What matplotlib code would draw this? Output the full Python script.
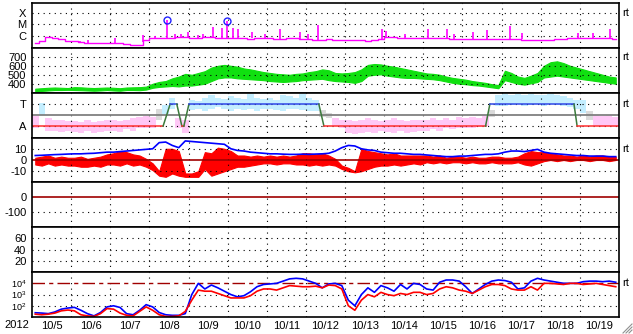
import numpy as np
import matplotlib
matplotlib.use('Agg')
import matplotlib.pyplot as plt
import matplotlib.transforms as mtransforms
from matplotlib.lines import Line2D

plt.rcParams['font.family'] = ['Liberation Sans', 'DejaVu Sans']
plt.rcParams['font.size'] = 8
plt.rcParams['mathtext.fontset'] = 'custom'
plt.rcParams['mathtext.rm'] = 'Liberation Sans'

# time axis: days since 2012-10-05 00:00, 4-hour bins
t = (np.arange(90) + 0.5) / 6.0
day_labels = ['10/5', '10/6', '10/7', '10/8', '10/9', '10/10', '10/11', '10/12',
              '10/13', '10/14', '10/15', '10/16', '10/17', '10/18', '10/19']

# X-ray background, log10 flux
xray_log = [-6.70, -6.45, -6.15, -6.20, -6.30, -6.45,
            -6.52, -6.55, -6.62, -6.66, -6.66, -6.64,
            -6.66, -6.70, -6.72, -6.80, -6.82, -6.40,
            -6.24, -6.22, -6.24, -6.20, -6.15, -6.15,
            -6.20, -6.25, -6.15, -6.10, -6.18, -6.24,
            -6.22, -6.25, -6.24, -6.26, -6.22, -6.24,
            -6.24, -6.26, -6.28, -6.24, -6.25, -6.30,
            -6.32, -6.35, -6.36, -6.30, -6.38, -6.40,
            -6.40, -6.42, -6.43, -6.44, -6.43, -6.30,
            -6.10, -6.15, -6.18, -6.20, -6.20, -6.22,
            -6.20, -6.22, -6.24, -6.25, -6.28, -6.30,
            -6.30, -6.28, -6.30, -6.32, -6.30, -6.28,
            -6.30, -6.30, -6.32, -6.35, -6.38, -6.40,
            -6.38, -6.35, -6.30, -6.28, -6.25, -6.24,
            -6.24, -6.22, -6.20, -6.25, -6.22, -6.28]
flare_t = [1.23, 1.43, 2.12, 2.84, 3.14, 3.45, 3.65, 3.81, 3.99, 4.24, 4.37, 4.63,
           4.86, 4.98, 5.14, 5.26, 5.62, 5.95, 6.34, 6.85, 7.05, 7.31, 8.94, 9.05,
           9.53, 10.12, 10.61, 10.78, 11.27, 11.63, 12.22, 12.52, 13.95, 14.34, 14.77]
flare_log = [-6.45, -6.35, -6.20, -5.90, -6.00, -4.60, -5.85, -5.82, -5.70, -5.90, -5.85, -5.24,
             -5.36, -4.72, -5.30, -5.40, -5.70, -5.85, -5.39, -5.70, -5.85, -5.09, -5.40, -5.55,
             -5.85, -5.40, -5.40, -5.85, -5.70, -5.50, -5.18, -5.75, -5.75, -5.78, -5.40]
mflare_t = [3.45, 4.98]
mflare_log = [-4.60, -4.72]

# solar wind speed envelope (km/s)
speed_lo = [318, 320, 325, 330, 330, 332, 330, 328, 325, 322, 325, 330,
            325, 322, 330, 330, 328, 335, 355, 365, 370, 375, 370, 380,
            380, 390, 400, 430, 460, 470, 470, 460, 455, 450, 445, 440,
            430, 425, 420, 425, 430, 440, 445, 450, 455, 440, 430, 425,
            420, 410, 430, 490, 500, 505, 490, 480, 470, 465, 465, 460,
            455, 450, 440, 425, 410, 400, 395, 385, 380, 370, 360, 350,
            440, 420, 400, 390, 405, 420, 470, 480, 490, 480, 470, 460,
            450, 440, 430, 420, 410, 400]
speed_hi = [345, 350, 355, 358, 355, 352, 362, 360, 355, 352, 355, 358,
            355, 350, 358, 360, 362, 368, 400, 420, 430, 460, 480, 510,
            500, 520, 540, 580, 600, 610, 600, 590, 570, 560, 545, 530,
            520, 510, 505, 500, 510, 515, 530, 540, 560, 550, 520, 515,
            520, 530, 560, 610, 620, 615, 600, 590, 575, 560, 545, 530,
            515, 510, 500, 480, 465, 455, 445, 430, 420, 410, 395, 385,
            545, 520, 480, 465, 490, 520, 600, 640, 650, 630, 600, 580,
            560, 540, 520, 500, 480, 470]

# IMF direction scatter range (A = 0, T = 1)
phi_lo = [-0.10, 0.50, -0.20, -0.20, -0.25, -0.20, -0.25, -0.30, -0.20, -0.30, -0.25, -0.20,
          -0.20, -0.25, -0.15, -0.20, -0.10, -0.10, -0.10, 0.30, 0.55, 0.80, -0.10, -0.30,
          0.75, 0.80, 0.70, 0.80, 0.85, 0.80, 0.70, 0.80, 0.75, 0.80, 0.70, 0.80,
          0.80, 0.75, 0.70, 0.80, 0.80, 0.75, 0.70, 0.70, 0.40, 0.35, 0.00, -0.10,
          -0.30, -0.35, -0.30, -0.25, -0.30, -0.20, -0.25, -0.30, -0.20, -0.30, -0.25, -0.20,
          -0.20, -0.15, -0.20, -0.10, -0.15, -0.10, -0.10, -0.10, -0.05, 0.00, 0.40, 0.90,
          0.90, 0.95, 1.00, 0.90, 0.95, 1.00, 0.90, 1.00, 0.95, 0.90, 0.85, 0.80,
          0.60, 0.30, 0.00, -0.05, 0.00, -0.05]
phi_hi = [0.45, 1.05, 0.35, 0.30, 0.30, 0.25, 0.25, 0.20, 0.30, 0.20, 0.25, 0.30,
          0.30, 0.25, 0.30, 0.35, 0.40, 0.45, 0.40, 0.80, 0.95, 1.30, 0.35, 0.30,
          1.20, 1.15, 1.30, 1.40, 1.30, 1.25, 1.35, 1.30, 1.25, 1.45, 1.30, 1.25,
          1.30, 1.20, 1.40, 1.35, 1.30, 1.45, 1.30, 1.20, 0.75, 0.60, 0.35, 0.30,
          0.30, 0.25, 0.30, 0.35, 0.30, 0.25, 0.30, 0.35, 0.30, 0.25, 0.30, 0.30,
          0.30, 0.35, 0.30, 0.35, 0.30, 0.40, 0.35, 0.40, 0.35, 0.45, 0.75, 1.40,
          1.45, 1.40, 1.45, 1.40, 1.45, 1.40, 1.40, 1.45, 1.40, 1.35, 1.30, 1.20,
          1.20, 0.70, 0.50, 0.45, 0.50, 0.40]
# sector boundary line
sector_t = [0, 3.35, 3.53, 3.70, 3.83, 3.88, 4.01, 7.33, 7.46, 11.59, 11.70, 13.85, 13.93, 15]
sector_v = [0, 0, 1, 1, 0, 0, 1, 1, 0, 0, 1, 1, 0, 0]

# IMF Bt and Bz envelope (nT)
bt = [4.0, 4.2, 4.5, 4.8, 5.0, 5.3, 5.5, 5.5, 5.8, 6.0, 6.5, 7.0,
      7.0, 7.5, 8.0, 8.5, 9.0, 9.5, 10, 15.5, 16, 13, 11, 17,
      16.5, 16, 15.5, 15, 14.5, 14, 10, 8.5, 8, 7, 6.5, 6,
      5.5, 5.5, 5.2, 5.0, 5.0, 5.2, 5.0, 5.3, 5.5, 6, 8, 11,
      13, 12.5, 10, 9, 8.5, 7, 6.5, 6, 6, 5.5, 5, 5,
      4.5, 4, 3.5, 3, 3, 3.5, 3.5, 4, 4.5, 5, 5, 5.5,
      7, 8, 8, 7.5, 8.5, 9.5, 7, 6, 5.5, 5, 4.5, 4,
      4, 3.5, 3.5, 3.5, 3, 3]
bz_lo = [-4, -5, -3, -5, -4, -5, -5, -6, -6, -5, -6, -4,
         -4, -5, -3, -5, -4, -6, -9, -14, -15, -12, -14, -15,
         -15, -15, -8, -14, -12, -10, -8, -6, -6, -5, -4, -3,
         -3, -4, -3, -3, -4, -4, -5, -4, -5, -4, -5, -8,
         -10, -11, -10, -8, -6, -5, -5, -4, -5, -4, -3, -4,
         -2, -3, -2, -3, -2, -2, -3, -2, -3, -3, -2, -3,
         -3, -3, -2, -4, -5, -3, -1, 0, -1, 0, -1, 0,
         0, -1, 0, 0, -1, 0]
bz_hi = [2, 3, 4, 2, 3, 2, 2, 3, 1, 2, 3, 5,
         6, 8, 7, 5, 4, 1, -3, -10, 10, 10, 8, -12,
         -12, -10, 7, 6, 11, 10, 8, 4, 4, 3, 4, 3,
         4, 3, 4, 3, 4, 6, 6, 5, 6, 4, 1, -5,
         -7, -10, 10, 8, 7, 6, 5, 6, 4, 4, 4, 4,
         4, 3, 4, 2, 3, 3, 2, 3, 2, 2, 3, 3,
         2, 2, 3, 6, 8, 7, 7, 6, 5, 4, 4, 3,
         4, 3, 4, 4, 3, 3]

# electron flux, log10 (blue: e1, red: e2)
e1_log = [1.38, 1.35, 1.30, 1.45, 1.70, 1.80, 1.86, 1.60, 1.30, 1.10, 1.40, 1.90,
          2.00, 1.85, 1.30, 1.20, 1.60, 2.10, 1.90, 1.40, 1.20, 1.15, 1.15, 1.30,
          3.00, 4.00, 3.50, 3.85, 3.60, 3.30, 3.00, 2.80, 2.90, 3.25, 3.70, 3.90,
          3.95, 4.00, 4.20, 4.40, 4.45, 4.40, 4.20, 4.00, 3.60, 3.95, 4.00, 3.80,
          2.50, 2.00, 3.00, 3.60, 3.20, 3.80, 3.60, 3.30, 3.90, 3.50, 4.00, 3.90,
          3.50, 3.40, 4.10, 4.30, 4.30, 4.20, 3.70, 3.10, 3.50, 3.90, 4.20, 4.30,
          4.25, 4.10, 3.50, 3.60, 4.20, 4.45, 4.30, 4.20, 4.10, 4.00, 4.00, 4.00,
          4.15, 4.20, 4.20, 4.15, 4.20, 4.10]
e2_log = [1.25, 1.20, 1.25, 1.35, 1.55, 1.62, 1.55, 1.20, 1.10, 1.05, 1.30, 1.75,
          1.70, 1.35, 1.15, 1.10, 1.50, 1.90, 1.60, 1.20, 1.05, 1.05, 1.10, 1.50,
          2.50, 3.40, 3.30, 3.30, 3.10, 2.90, 2.70, 2.70, 2.70, 2.90, 3.30, 3.50,
          3.50, 3.40, 3.60, 3.80, 3.75, 3.70, 3.70, 3.75, 3.60, 3.85, 3.80, 3.50,
          2.00, 1.60, 2.50, 3.00, 2.80, 3.20, 3.00, 2.90, 3.10, 3.00, 3.20, 3.20,
          3.00, 3.10, 3.50, 3.70, 3.60, 3.40, 3.30, 3.10, 3.40, 3.70, 3.90, 3.90,
          3.80, 3.50, 3.40, 3.40, 3.70, 3.40, 4.00, 4.00, 3.95, 3.90, 4.00, 4.00,
          3.90, 3.95, 4.00, 3.90, 3.80, 3.70]

DOT = dict(color='black', lw=0.8, linestyle=(0, (1, 4)))
DARKRED = '#a00000'

fig, axs = plt.subplots(7, 1, sharex=True, figsize=(6.33, 3.34), dpi=100)
fig.subplots_adjust(left=32/633, right=619/633, top=1-3/334, bottom=1-317/334, hspace=0)

for ax in axs:
    ax.set_xlim(0, 15)
    for d in range(1, 15):
        ax.axvline(d, **DOT)
    for s in ax.spines.values():
        s.set_linewidth(1.2)
    ax.tick_params(length=0, pad=4, labelsize=8)
    ax.tick_params(axis='x', labelbottom=False)


def hlines(ax, levels):
    for y in levels:
        ax.axhline(y, **DOT)


def rt(ax, y):
    tr = mtransforms.blended_transform_factory(ax.transAxes, ax.transData)
    ax.text(1.005, y, 'rt', transform=tr, va='center', ha='left', fontsize=8)


# panel 1: x-ray
ax = axs[0]
ax.set_yscale('log')
ax.set_ylim(10**-7.09, 10**-3.09)
ax.minorticks_off()
ax.set_yticks([1e-4, 1e-5, 1e-6], ['X', 'M', 'C'])
hlines(ax, [1e-4, 1e-5, 1e-6])
ax.plot(t, 10**np.array(xray_log), color='#ff00ff', lw=1, drawstyle='steps-mid')
base = np.interp(flare_t, t, xray_log)
ax.vlines(flare_t, 10**base, 10**np.array(flare_log), color='#ff00ff', lw=1.2)
ax.plot(mflare_t, 10**np.array(mflare_log), 'o', mfc='none', mec='#2020ff', ms=5, mew=1)
rt(ax, 1e-4)

# panel 2: speed
ax = axs[1]
ax.set_ylim(300, 800)
ax.set_yticks([700, 600, 500, 400], ['700', '600', '500', '400'])
hlines(ax, [400, 500, 600, 700])
ax.fill_between(t, speed_lo, speed_hi, color='#10e010', lw=0.8)
rt(ax, 700)

# panel 3: sector
ax = axs[2]
ax.set_ylim(-0.52, 1.52)
ax.set_yticks([1, 0], ['T', 'A'])
hlines(ax, [0, 1])
lo = np.array(phi_lo)
hi = np.array(phi_hi)
mid = (lo + hi) / 2
cols = np.where(mid > 0.6, '#c4eeff', np.where(mid < 0.4, '#ffc8f6', '#dadada'))
ax.bar(t, hi - lo, bottom=lo, width=1/6, color=cols, lw=0)
ax.axhline(0.5, color='#808080', lw=1.3)
for i in range(len(sector_t) - 1):
    v0, v1 = sector_v[i], sector_v[i + 1]
    c = '#3048e8' if v0 == v1 == 1 else ('#ff3030' if v0 == v1 == 0 else '#3c7a3c')
    ax.plot(sector_t[i:i + 2], sector_v[i:i + 2], color=c, lw=1.1)
rt(ax, 1)

# panel 4: IMF
ax = axs[3]
ax.set_ylim(-20, 20)
ax.set_yticks([10, 0, -10], ['10', '0', '-10'])
hlines(ax, [10, -10])
ax.axhline(0, color=DARKRED, lw=1.2)
ax.plot(t, bt, color='#0000ff', lw=1.2)
ax.fill_between(t, bz_lo, bz_hi, color='#ff0000', lw=0.8)
rt(ax, 10)

# panel 5: Dst (no data)
ax = axs[4]
ax.set_ylim(-200, 100)
ax.set_yticks([0, -100], ['0', '-100'])
hlines(ax, [-100])
ax.axhline(0, color=DARKRED, lw=1.2)

# panel 6: empty
ax = axs[5]
ax.set_ylim(0, 80)
ax.set_yticks([60, 40, 20], ['60', '40', '20'])
hlines(ax, [20, 40, 60])

# panel 7: electrons
ax = axs[6]
ax.set_yscale('log')
ax.set_ylim(10, 1e5)
ax.minorticks_off()
ax.set_yticks([1e4, 1e3, 1e2], [r'$\mathregular{10^4}$', r'$\mathregular{10^3}$', r'$\mathregular{10^2}$'])
ax.tick_params(axis='y', labelsize=6.5)
hlines(ax, [1e3, 1e2])
ax.axhline(1e4, color=DARKRED, lw=1, linestyle=(0, (9, 3, 3, 3)))
ax.plot(t, 10**np.array(e1_log), color='#0000ff', lw=1.2)
ax.plot(t, 10**np.array(e2_log), color='#ff0000', lw=1.2)
rt(ax, 1e4)

ax.set_xticks(np.arange(15) + 0.5, day_labels, minor=True)
ax.tick_params(axis='x', which='both', length=0, labelbottom=True, pad=3, labelsize=8)
ax.set_xticks(range(1, 15), [''] * 14)
fig.text(4/633, 1 - 325/334, '2012', fontsize=8, va='center', ha='left')

# resize grip in the corner
for k in range(3):
    x0 = (623 + 3*k) / 633
    fig.add_artist(Line2D([x0, 632/633], [1 - 333/334, 1 - (333 - (632 - 623 - 3*k))/334],
                          transform=fig.transFigure, color='#909090', lw=0.8))

fig.savefig('out.png', dpi=100)
